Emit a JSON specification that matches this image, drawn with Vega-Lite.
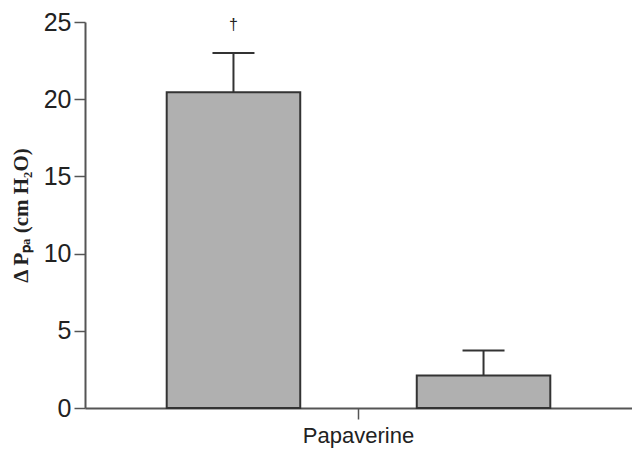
{
  "$schema": "https://vega.github.io/schema/vega-lite/v6.json",
  "width": 547,
  "height": 386,
  "autosize": "none",
  "padding": {"left": 85, "top": 22, "right": 0, "bottom": 45},
  "background": "white",
  "config": {
    "view": {"stroke": null},
    "font": "Liberation Sans"
  },
  "data": {
    "values": [
      {"group": "Papaverine", "cond": "A", "mean": 20.45, "upper": 23.0, "mark": "†"},
      {"group": "Papaverine", "cond": "B", "mean": 2.1, "upper": 3.73, "mark": ""}
    ]
  },
  "encoding": {
    "x": {
      "field": "group",
      "type": "nominal",
      "title": null,
      "scale": {"paddingInner": 0, "paddingOuter": 0.213},
      "axis": {
        "labelAngle": 0,
        "labelFontSize": 22,
        "labelColor": "#222",
        "labelPadding": 6,
        "tickSize": 11,
        "tickWidth": 1.5,
        "tickColor": "#555",
        "domainColor": "#555",
        "domainWidth": 2
      }
    },
    "xOffset": {
      "field": "cond",
      "type": "nominal",
      "scale": {"paddingInner": 0.466, "paddingOuter": 0}
    },
    "y": {
      "field": "mean",
      "type": "quantitative",
      "scale": {"domain": [0, 25], "nice": false, "zero": true},
      "title": "Δ Pₚₐ (cm H₂O)",
      "axis": {
        "values": [0, 5, 10, 15, 20, 25],
        "grid": false,
        "labelFontSize": 25,
        "labelColor": "#222",
        "labelPadding": 3,
        "tickSize": 11,
        "tickWidth": 1.5,
        "tickColor": "#555",
        "domainColor": "#555",
        "domainWidth": 2,
        "titleFont": "Liberation Serif",
        "titleFontSize": 21,
        "titleFontWeight": "bold",
        "titleColor": "#222",
        "titlePadding": 12
      }
    }
  },
  "layer": [
    {
      "mark": {"type": "rule", "stroke": "#333", "strokeWidth": 2},
      "encoding": {
        "y2": {"field": "upper"}
      }
    },
    {
      "mark": {"type": "tick", "color": "#333", "thickness": 2, "size": 42, "opacity": 1},
      "encoding": {
        "y": {"field": "upper", "type": "quantitative"}
      }
    },
    {
      "mark": {"type": "bar", "fill": "#b0b0b0", "stroke": "#333", "strokeWidth": 2}
    },
    {
      "mark": {"type": "text", "fontSize": 16, "color": "#222", "baseline": "middle"},
      "encoding": {
        "y": {"datum": 24.8, "type": "quantitative"},
        "text": {"field": "mark"}
      }
    }
  ]
}
